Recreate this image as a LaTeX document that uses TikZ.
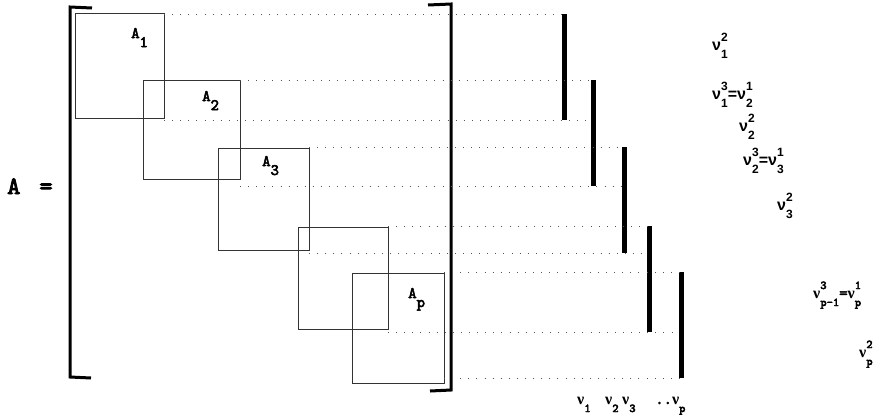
\documentclass[tikz,border=0pt]{standalone}
\usepackage{fontspec}
\setmainfont{Liberation Sans}
\newfontfamily\courfam{lmmono10-regular}[Extension=.otf, FakeBold=3.5]
\newfontfamily\grkfam{Liberation Serif}
\usetikzlibrary{calc, positioning}
\definecolor{boxline}{HTML}{333333}
\definecolor{dotline}{HTML}{555555}
% nu with stacked sub- and superscript
\newcommand{\scsz}{\fontsize{12}{12}\selectfont}
\newcommand{\nuss}[2]{ν\rlap{\raisebox{9pt}{\scsz #2}}\raisebox{-8pt}{\scsz #1}}
\newcommand{\tnu}{{\grkfam\bfseries\fontsize{16}{16}\selectfont ν}}
\newcommand{\tnuss}[2]{\tnu\rlap{\raisebox{9pt}{\scsz #2}}\raisebox{-8pt}{\scsz #1}}
\newcommand{\tnusub}[1]{\tnu\raisebox{-8pt}{\scsz #1}}

\begin{document}
\begin{tikzpicture}[
    x=1pt, y=-1pt,
    blk/.style 2 args={draw=boxline, line width=0.9pt, inner sep=0pt, outer sep=0pt, anchor=north west, minimum width=#1pt, minimum height=#2pt},
    bar/.style={fill=black, inner sep=0pt, outer sep=0pt, anchor=north, minimum width=5pt, minimum height=106pt},
    guide/.style={dotline, line width=0.9pt, dash pattern=on 0.9pt off 7.2pt},
    brk/.style={line width=3pt, line join=miter},
    blab/.style={font=\courfam\fontsize{16}{16}\selectfont, inner sep=0pt, anchor=base west},
    vlab/.style={font=\bfseries\fontsize{16}{16}\selectfont, inner sep=0pt, anchor=base west},
    mlab/.style={font=\courfam\fontsize{16}{16}\selectfont, inner sep=0pt, anchor=base west}
]
    \useasboundingbox (0,0) rectangle (880,416);

    % A = [ ... ]
    \node[font=\courfam\fontsize{25}{25}\selectfont, inner sep=0pt, anchor=base west] (lhs) at (7,194) {A\hspace{6pt} =};
    \draw[brk] (92,8) -- (70,7) -- (70,377) -- (91,378);
    \draw[brk] (428,5) -- (451,4) -- (451,390) -- (430,391);

    % diagonal blocks
    \node[blk={89}{105}] (A1) at (75,13) {};
    \node[blk={97}{99}] (A2) at (143,80) {};
    \node[blk={91}{102}] (A3) at (218,148) {};
    \node[blk={90}{102}] (A4) at (298,227) {};
    \node[blk={92}{110}] (A5) at (352,273) {};

    \node[blab] (lA1) at (131,38) {A\raisebox{-9pt}{1}};
    \node[blab] (lA2) at (202,101) {A\raisebox{-9pt}{2}};
    \node[blab] (lA3) at (262,166) {A\raisebox{-9pt}{3}};
    \node[blab] (lAp) at (408,298) {A\raisebox{-9pt}{p}};

    % vertex bars
    \node[bar] (v1) at (564,14) {};
    \node[bar] (v2) at (593,80) {};
    \node[bar] (v3) at (624,147) {};
    \node[bar] (v4) at (649,226) {};
    \node[bar] (v5) at (681,272) {};

    % dotted guides from block edges to bars
    \foreach \k/\n in {1/2, 2/3, 3/4, 4/5} {
        \draw[guide] (v\k.north -| A\k.east) -- (v\k.north);
        \draw[guide] (v\k.south -| A\k.east) -- (v\k.south -| v\n.west);
    }
    \draw[guide] (v5.north -| A5.east) -- (v5.north);
    \draw[guide] (v5.south -| A5.east) -- (v5.south);

    % bar labels
    \node[mlab] (nu1) at (577,404) {\tnusub{1}};
    \node[mlab] (nu2) at (605,404) {\tnusub{2}};
    \node[mlab] (nu3) at (622,404) {\tnusub{3}};
    \node[mlab] (nup) at (655,404) {..\tnusub{p}};

    % shared vertices
    \node[vlab] (s1) at (712,50) {\nuss{1}{2}};
    \node[vlab] (s12) at (712,99) {\nuss{1}{3}=\nuss{2}{1}};
    \node[vlab] (s2) at (739,131) {\nuss{2}{2}};
    \node[vlab] (s23) at (743,165) {\nuss{2}{3}=\nuss{3}{1}};
    \node[vlab] (s3) at (777,210) {\nuss{3}{2}};
    \node[mlab] (spp) at (813,298) {\tnuss{p-1}{3}=\tnuss{p}{1}};
    \node[mlab] (sp) at (859,357) {\tnuss{p}{2}};

\end{tikzpicture}
\end{document}
